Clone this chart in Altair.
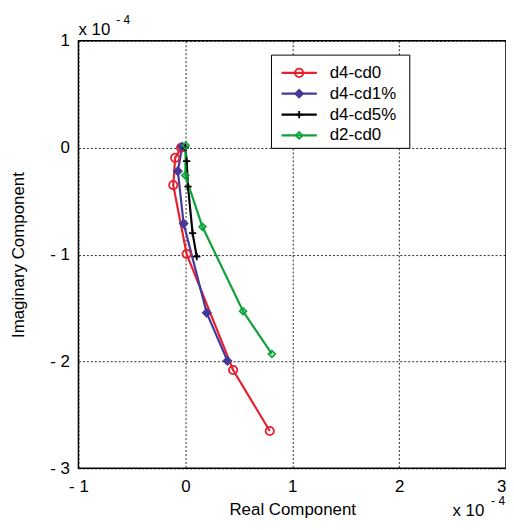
import altair as alt
import pandas as pd

# ---- data (units of 1e-4) ----
series_names = ["d4-cd0", "d4-cd1%", "d4-cd5%", "d2-cd0"]

red_x = [-0.04, -0.095, -0.113, 0.012, 0.447, 0.79]
red_y = [0.0, -0.095, -0.35, -0.995, -2.08, -2.65]

purple_x = [-0.03, -0.07, -0.016, 0.20, 0.394]
purple_y = [0.01, -0.22, -0.71, -1.545, -1.995]

black_x = [0.0, 0.012, 0.025, 0.068, 0.107]
black_y = [0.0, -0.125, -0.365, -0.80, -1.02]

green_x = [0.003, 0.0, 0.16, 0.54, 0.81]
green_y = [0.02, -0.26, -0.74, -1.53, -1.93]

x_ticks = [-1, 0, 1, 2, 3]
y_ticks = [-3, -2, -1, 0, 1]

colors = ["#e6202e", "#46399a", "#000000", "#0ea23a"]
fills = ["transparent", "#46399a", "transparent", "transparent"]
plus_path = "M-1,0L1,0M0,-1L0,1"
shapes = ["circle", "diamond", plus_path, "diamond"]
sizes = [70, 45, 90, 70]

rows = []
for name, xs, ys in zip(series_names,
                        [red_x, purple_x, black_x, green_x],
                        [red_y, purple_y, black_y, green_y]):
    for i, (a, b) in enumerate(zip(xs, ys)):
        rows.append({"series": name, "idx": i, "re": a, "im": b})
df = pd.DataFrame(rows)

FONT = "Liberation Sans"

xscale = alt.Scale(domain=[-1, 3], nice=False, zero=False)
yscale = alt.Scale(domain=[-3, 1], nice=False, zero=False)
cscale = alt.Scale(domain=series_names, range=colors)
fscale = alt.Scale(domain=series_names, range=fills)
sscale = alt.Scale(domain=series_names, range=shapes)
zscale = alt.Scale(domain=series_names, range=sizes)

label_expr = "datum.value < 0 ? '- ' + abs(datum.value) : '' + datum.value"

xaxis = alt.Axis(values=x_ticks, grid=True, gridDash=[2, 2], gridColor="black",
                 gridOpacity=0.85, domain=False, ticks=False, labelExpr=label_expr,
                 labelFont=FONT, labelFontSize=17, labelColor="black", labelPadding=10,
                 labelAlign=alt.condition("datum.value == 3", alt.value("right"),
                                          alt.value("center")),
                 title="Real Component", titleFont=FONT, titleFontSize=17,
                 titleFontWeight="normal", titleColor="black", titlePadding=8,
                 labelFlush=False)
yaxis = alt.Axis(values=y_ticks, grid=True, gridDash=[2, 2], gridColor="black",
                 gridOpacity=0.85, domain=False, ticks=False, labelExpr=label_expr,
                 labelFont=FONT, labelFontSize=17, labelColor="black", labelPadding=9,
                 title="Imaginary Component", titleFont=FONT, titleFontSize=17,
                 titleFontWeight="normal", titleColor="black", titlePadding=23,
                 labelFlush=False)

base = alt.Chart(df)
lines = base.mark_line(strokeWidth=2.2).encode(
    x=alt.X("re:Q", scale=xscale, axis=xaxis),
    y=alt.Y("im:Q", scale=yscale, axis=yaxis),
    color=alt.Color("series:N", scale=cscale, legend=None),
    detail="series:N",
    order="idx:Q",
)
points = base.mark_point(strokeWidth=1.8, opacity=1).encode(
    x="re:Q", y="im:Q",
    stroke=alt.Stroke("series:N", scale=cscale, legend=None),
    fill=alt.Fill("series:N", scale=fscale, legend=None),
    shape=alt.Shape("series:N", scale=sscale, legend=None),
    size=alt.Size("series:N", scale=zscale, legend=None),
)

# ---- legend (drawn in data coordinates) ----
box = pd.DataFrame({"x1": [0.806], "x2": [2.10], "y1": [0.866], "y2": [-0.006]})
legend_box = alt.Chart(box).mark_rect(fill="white", stroke="black", strokeWidth=1).encode(
    x="x1:Q", x2="x2:Q", y="y1:Q", y2="y2:Q")

row_y = [0.70, 0.505, 0.31, 0.115]
leg = pd.DataFrame({"series": series_names, "ly": row_y,
                    "lx1": [0.90] * 4, "lx2": [1.23] * 4,
                    "lxm": [1.065] * 4, "tx": [1.35] * 4})
leg_lines = alt.Chart(leg).mark_rule(strokeWidth=2.2).encode(
    x="lx1:Q", x2="lx2:Q", y="ly:Q",
    color=alt.Color("series:N", scale=cscale, legend=None))
leg_pts = alt.Chart(leg).mark_point(strokeWidth=1.8, opacity=1).encode(
    x="lxm:Q", y="ly:Q",
    stroke=alt.Stroke("series:N", scale=cscale, legend=None),
    fill=alt.Fill("series:N", scale=fscale, legend=None),
    shape=alt.Shape("series:N", scale=sscale, legend=None),
    size=alt.Size("series:N", scale=zscale, legend=None))
leg_text = alt.Chart(leg).mark_text(align="left", baseline="middle", font=FONT,
                                    fontSize=17, color="black").encode(
    x="tx:Q", y="ly:Q", text="series:N")

# ---- exponent annotations ----
ann = pd.DataFrame({"t": ["x 10"]})
exp_ = pd.DataFrame({"t": ["- 4"]})
top_main = alt.Chart(ann).mark_text(align="left", baseline="alphabetic", font=FONT,
                                    fontSize=17, color="black").encode(
    text="t:N", x=alt.value(0), y=alt.value(-6))
top_exp = alt.Chart(exp_).mark_text(align="left", baseline="alphabetic", font=FONT,
                                    fontSize=12, color="black").encode(
    text="t:N", x=alt.value(38), y=alt.value(-17))
bot_main = alt.Chart(ann).mark_text(align="left", baseline="alphabetic", font=FONT,
                                    fontSize=17, color="black").encode(
    text="t:N", x=alt.value(377), y=alt.value(479))
bot_exp = alt.Chart(exp_).mark_text(align="left", baseline="alphabetic", font=FONT,
                                    fontSize=12, color="black").encode(
    text="t:N", x=alt.value(416), y=alt.value(468))

chart = alt.layer(
    lines, points, legend_box, leg_lines, leg_pts, leg_text,
    top_main, top_exp, bot_main, bot_exp
).properties(
    width=431, height=431,
    autosize=alt.AutoSizeParams(type="none"),
    padding={"left": 71, "top": 31, "right": 0, "bottom": 52},
    background="white",
).configure_view(stroke="black", strokeWidth=1.5)

chart.save("out.html", embed_options={"renderer": "svg", "actions": False})
